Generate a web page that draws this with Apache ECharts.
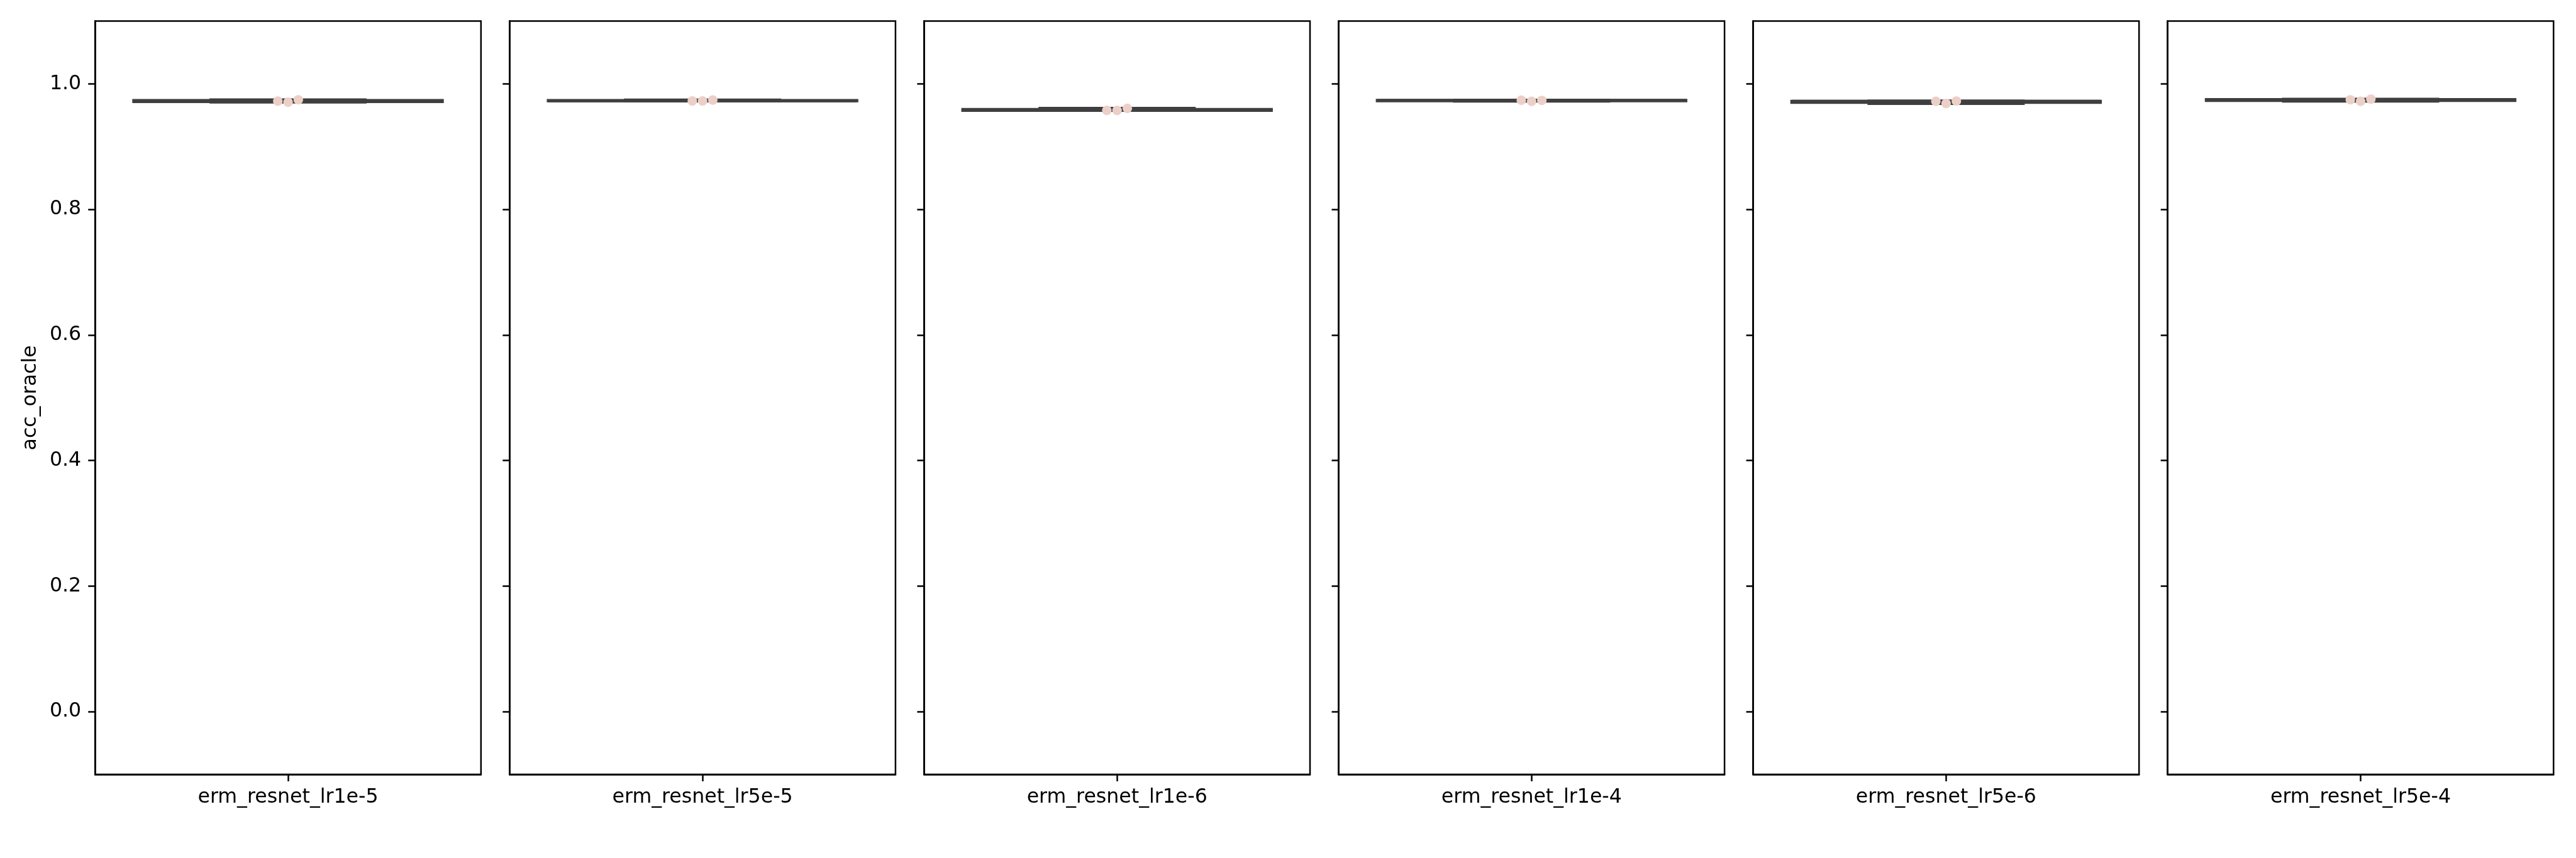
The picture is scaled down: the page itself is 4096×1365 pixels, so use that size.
<!DOCTYPE html>
<html>
<head>
<meta charset="utf-8">
<script src="https://cdn.jsdelivr.net/npm/echarts@6/dist/echarts.min.js"></script>
<style>
html,body{margin:0;padding:0;background:#fff;}
#chart{width:4096px;height:1365px;}
</style>
</head>
<body>
<div id="chart"></div>
<script>
// ---- data ----
const categories = ['erm_resnet_lr1e-5','erm_resnet_lr5e-5','erm_resnet_lr1e-6','erm_resnet_lr1e-4','erm_resnet_lr5e-6','erm_resnet_lr5e-4'];
// swarm points per panel, in left-to-right order
const pointsP1 = [0.9725, 0.9709, 0.9747];
const pointsP2 = [0.9729, 0.9729, 0.9744];
const pointsP3 = [0.9577, 0.9577, 0.9611];
const pointsP4 = [0.9740, 0.9724, 0.9737];
const pointsP5 = [0.9724, 0.9687, 0.9727];
const pointsP6 = [0.9747, 0.9724, 0.9757];
// box statistics per panel
const boxMin = [0.9709, 0.9729, 0.9577, 0.9724, 0.9687, 0.9724];
const boxQ1  = [0.9717, 0.9729, 0.9577, 0.97305, 0.97055, 0.97355];
const boxMed = [0.9725, 0.9729, 0.9577, 0.9737, 0.9724, 0.9747];
const boxQ3  = [0.9736, 0.97365, 0.9594, 0.97385, 0.97255, 0.9752];
const boxMax = [0.9747, 0.9744, 0.9611, 0.9740, 0.9727, 0.9757];
const yTicks = [0.0, 0.2, 0.4, 0.6, 0.8, 1.0];
const yMin = -0.1, yMax = 1.1;
const yName = 'acc_oracle';

const allPoints = [pointsP1, pointsP2, pointsP3, pointsP4, pointsP5, pointsP6];

// ---- layout ----
const FONT = 'DejaVu Sans';
const FS = 31.6;
const LW = 2.5;
const panelLeft0 = 151.2, panelStep = 659.1, panelW = 613.6, panelTop = 33.6, panelH = 1198.4;
const boxLW = 4.5;
const dotSize = 15.2;
const dotStep = 16.3;

const grids = [], xAxes = [], yAxes = [], series = [];
categories.forEach((cat, i) => {
  grids.push({
    left: panelLeft0 + i * panelStep, top: panelTop, width: panelW, height: panelH,
    show: true, borderColor: '#000', borderWidth: LW, backgroundColor: '#fff', containLabel: false
  });
  xAxes.push({
    gridIndex: i, type: 'category', data: [cat], boundaryGap: true, position: 'bottom',
    axisLine: {show: true, onZero: false, lineStyle: {color: '#000', width: LW}},
    axisTick: {show: true, alignWithLabel: true, length: 11, lineStyle: {color: '#000', width: LW}},
    axisLabel: {show: true, color: '#000', fontFamily: FONT, fontSize: FS, margin: 21, lineHeight: FS},
    splitLine: {show: false}
  });
  yAxes.push({
    gridIndex: i, type: 'value', min: yMin, max: yMax, position: 'left',
    name: i === 0 ? yName : '', nameLocation: 'middle', nameRotate: 90, nameGap: 86,
    nameTextStyle: {color: '#000', fontFamily: FONT, fontSize: FS},
    axisLine: {show: true, onZero: false, lineStyle: {color: '#000', width: LW}},
    axisTick: {show: true, length: 11, customValues: yTicks, lineStyle: {color: '#000', width: LW}},
    axisLabel: {show: i === 0, customValues: yTicks, color: '#000', fontFamily: FONT, fontSize: FS, margin: 22,
      formatter: v => Number(v).toFixed(1)},
    splitLine: {show: false}
  });
  series.push({
    type: 'custom', xAxisIndex: i, yAxisIndex: i, z: 2,
    data: [[0, boxMin[i], boxQ1[i], boxMed[i], boxQ3[i], boxMax[i]]],
    renderItem: function (params, api) {
      const x = api.value(0);
      const cw = api.size([1, 0])[0];
      const pMin = api.coord([x, api.value(1)]);
      const pQ1 = api.coord([x, api.value(2)]);
      const pMed = api.coord([x, api.value(3)]);
      const pQ3 = api.coord([x, api.value(4)]);
      const pMax = api.coord([x, api.value(5)]);
      const cx = pMed[0];
      const st = {stroke: '#3f3f3f', lineWidth: boxLW, fill: null, lineCap: 'square'};
      return {
        type: 'group',
        children: [
          {type: 'line', shape: {x1: cx, y1: pQ1[1], x2: cx, y2: pMin[1]}, style: st},
          {type: 'line', shape: {x1: cx, y1: pQ3[1], x2: cx, y2: pMax[1]}, style: st},
          {type: 'line', shape: {x1: cx - 0.2 * cw, y1: pMin[1], x2: cx + 0.2 * cw, y2: pMin[1]}, style: st},
          {type: 'line', shape: {x1: cx - 0.2 * cw, y1: pMax[1], x2: cx + 0.2 * cw, y2: pMax[1]}, style: st},
          {type: 'rect', shape: {x: cx - 0.4 * cw, y: pQ3[1], width: 0.8 * cw, height: pQ1[1] - pQ3[1]},
            style: {stroke: '#3f3f3f', lineWidth: boxLW, fill: '#3f3f3f', lineJoin: 'miter'}},
          {type: 'line', shape: {x1: cx - 0.4 * cw, y1: pMed[1], x2: cx + 0.4 * cw, y2: pMed[1]},
            style: {stroke: '#3f3f3f', lineWidth: boxLW}}
        ]
      };
    }
  });
  const pts = allPoints[i];
  series.push({
    type: 'scatter', xAxisIndex: i, yAxisIndex: i, z: 5,
    symbol: 'circle', symbolSize: dotSize,
    itemStyle: {color: '#ecd0c8', opacity: 1, borderWidth: 0},
    data: pts.map((v, k) => ({value: [0, v], symbolOffset: [(k - (pts.length - 1) / 2) * dotStep, 0]}))
  });
});

const chart = echarts.init(document.getElementById('chart'), null, {renderer: 'canvas'});
chart.setOption({
  backgroundColor: '#fff',
  animation: false,
  grid: grids, xAxis: xAxes, yAxis: yAxes, series: series
});
</script>
</body>
</html>
